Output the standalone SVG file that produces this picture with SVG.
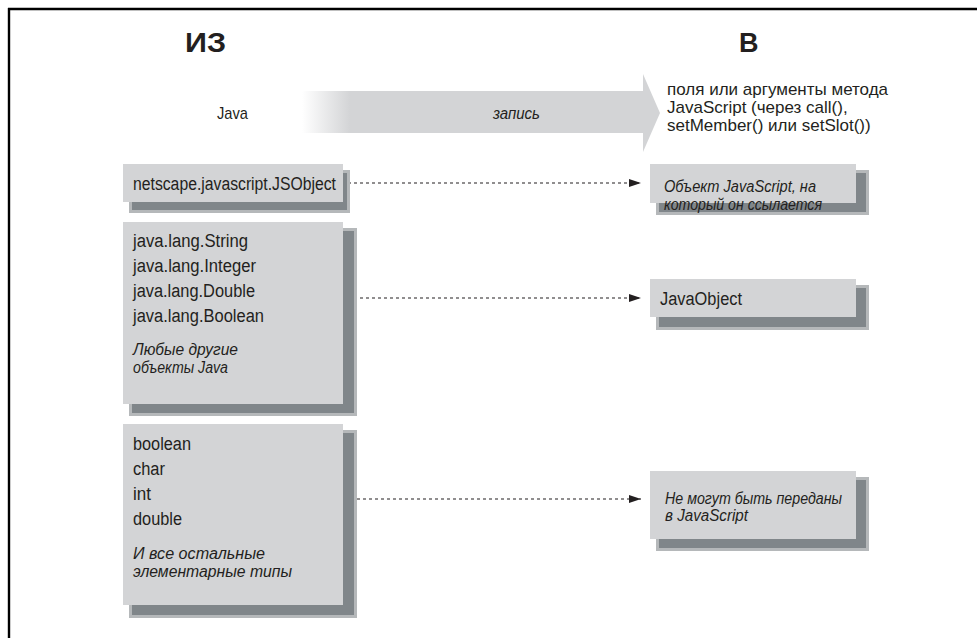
<svg xmlns="http://www.w3.org/2000/svg" width="977" height="638" viewBox="0 0 977 638">
<style>
.t{font-family:"Liberation Sans",Arial,sans-serif;fill:#231f20;font-size:18px}
.i{font-style:italic;font-size:16px}
.h{font-weight:bold;font-size:27px}
.box{fill:#d3d4d6}
.sh1{fill:#b5b8ba}
.sh2{fill:#80868a}
.con{stroke:#231f20;stroke-width:1.2;stroke-dasharray:3,3;fill:none}
</style>
<defs>
<linearGradient id="ag" x1="302" y1="0" x2="350" y2="0" gradientUnits="userSpaceOnUse">
<stop offset="0" stop-color="#ffffff"/>
<stop offset="1" stop-color="#d3d4d6"/>
</linearGradient>
<marker id="ah" markerWidth="12" markerHeight="8" refX="12" refY="4" orient="auto" markerUnits="userSpaceOnUse">
<polygon points="0,0 12,4 0,8" fill="#231f20"/>
</marker>
</defs>
<rect width="977" height="638" fill="#ffffff"/>
<g id="frame">
<line x1="8" y1="9" x2="977" y2="9" stroke="#000" stroke-width="2.4"/>
<line x1="9" y1="8" x2="9" y2="638" stroke="#000" stroke-width="2.4"/>
</g>
<g id="headers">
<text class="t h" x="185" y="52" textLength="41" lengthAdjust="spacingAndGlyphs">ИЗ</text>
<text class="t h" x="739" y="52">В</text>
</g>
<g id="flow-arrow">
<polygon points="302,91 643,91 643,74 660,113 643,152 643,133 302,133" fill="url(#ag)"/>
<text class="t" x="217" y="119" style="font-size:17px" textLength="31" lengthAdjust="spacingAndGlyphs">Java</text>
<text class="t i" x="493" y="119" textLength="47" lengthAdjust="spacingAndGlyphs">запись</text>
<text class="t" x="667" y="95" style="font-size:17px">поля или аргументы метода</text>
<text class="t" x="667" y="113" style="font-size:17px">JavaScript (через call(),</text>
<text class="t" x="667" y="131" style="font-size:17px">setMember() или setSlot())</text>
</g>
<g id="connectors">
<line class="con" x1="348" y1="183" x2="641" y2="183" marker-end="url(#ah)"/>
<line class="con" x1="348" y1="298" x2="641" y2="298" marker-end="url(#ah)"/>
<line class="con" x1="345" y1="499" x2="641" y2="499" marker-end="url(#ah)"/>
</g>
<g id="n-jsobject">
<rect class="sh1" x="129" y="170" width="221" height="43"/>
<rect class="sh2" x="132" y="173" width="215" height="37"/>
<rect class="box" x="123" y="164" width="220" height="38"/>
<text class="t" x="133" y="190" textLength="203" lengthAdjust="spacingAndGlyphs">netscape.javascript.JSObject</text>
</g>
<g id="n-javalang">
<rect class="sh1" x="129" y="228" width="228" height="188"/>
<rect class="sh2" x="132" y="231" width="222" height="182"/>
<rect class="box" x="123" y="222" width="220" height="182"/>
<text class="t" x="133" y="247" textLength="115" lengthAdjust="spacingAndGlyphs">java.lang.String</text>
<text class="t" x="133" y="272" textLength="123" lengthAdjust="spacingAndGlyphs">java.lang.Integer</text>
<text class="t" x="133" y="297" textLength="122" lengthAdjust="spacingAndGlyphs">java.lang.Double</text>
<text class="t" x="133" y="322" textLength="131" lengthAdjust="spacingAndGlyphs">java.lang.Boolean</text>
<text class="t i" x="133" y="355" textLength="105" lengthAdjust="spacingAndGlyphs">Любые другие</text>
<text class="t i" x="133" y="373" textLength="95" lengthAdjust="spacingAndGlyphs">объекты Java</text>
</g>
<g id="n-primitives">
<rect class="sh1" x="129" y="430" width="228" height="188"/>
<rect class="sh2" x="132" y="433" width="222" height="182"/>
<rect class="box" x="123" y="424" width="220" height="181"/>
<text class="t" x="133" y="450" textLength="58" lengthAdjust="spacingAndGlyphs">boolean</text>
<text class="t" x="133" y="475" textLength="32" lengthAdjust="spacingAndGlyphs">char</text>
<text class="t" x="133" y="500" textLength="18" lengthAdjust="spacingAndGlyphs">int</text>
<text class="t" x="133" y="525" textLength="49" lengthAdjust="spacingAndGlyphs">double</text>
<text class="t i" x="133" y="559" textLength="132" lengthAdjust="spacingAndGlyphs">И все остальные</text>
<text class="t i" x="133" y="577" textLength="159" lengthAdjust="spacingAndGlyphs">элементарные типы</text>
</g>
<g id="n-jsref">
<rect class="sh1" x="656" y="170" width="213" height="45"/>
<rect class="sh2" x="659" y="173" width="207" height="39"/>
<rect class="box" x="650" y="164" width="206" height="39"/>
<text class="t i" x="664" y="192" textLength="152" lengthAdjust="spacingAndGlyphs">Объект JavaScript, на</text>
<text class="t i" x="664" y="210" textLength="158" lengthAdjust="spacingAndGlyphs">который он ссылается</text>
</g>
<g id="n-javaobject">
<rect class="sh1" x="656" y="285" width="213" height="45"/>
<rect class="sh2" x="659" y="288" width="207" height="39"/>
<rect class="box" x="650" y="279" width="206" height="38"/>
<text class="t" x="660" y="305" textLength="82" lengthAdjust="spacingAndGlyphs">JavaObject</text>
</g>
<g id="n-cannot">
<rect class="sh1" x="656" y="477" width="213" height="74"/>
<rect class="sh2" x="659" y="480" width="207" height="68"/>
<rect class="box" x="650" y="471" width="206" height="68"/>
<text class="t i" x="665" y="504" textLength="177" lengthAdjust="spacingAndGlyphs">Не могут быть переданы</text>
<text class="t i" x="665" y="521" textLength="83" lengthAdjust="spacingAndGlyphs">в JavaScript</text>
</g>
</svg>
